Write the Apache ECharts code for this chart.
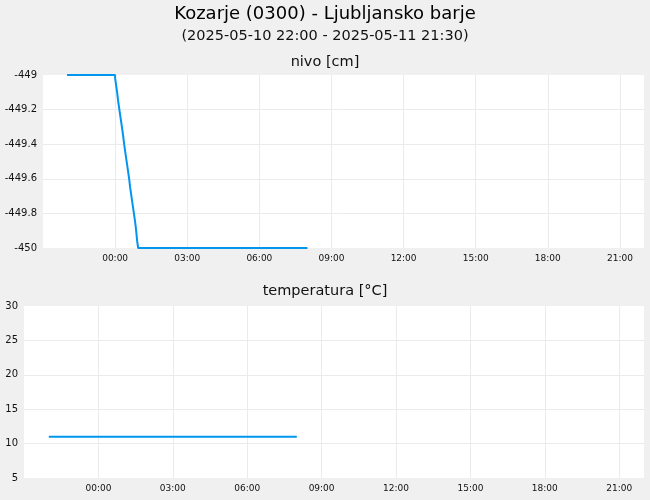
<!DOCTYPE html>
<html>
<head>
<meta charset="utf-8">
<script src="https://cdn.jsdelivr.net/npm/echarts@6/dist/echarts.min.js"></script>
<style>
html,body{margin:0;padding:0;background:#f0f0f0;}
#chart{width:650px;height:500px;}
</style>
</head>
<body>
<div id="chart"></div>
<script>
const mainTitle = 'Kozarje (0300) - Ljubljansko barje';
const subTitle = '(2025-05-10 22:00 - 2025-05-11 21:30)';
const levelTitle = 'nivo [cm]';
const tempTitle = 'temperatura [°C]';

const axisStart = '2025-05-10 21:00:00';
const axisEnd = '2025-05-11 22:00:00';

const levelTimes = [
  '2025-05-10 22:00:00','2025-05-10 22:30:00','2025-05-10 23:00:00','2025-05-10 23:30:00','2025-05-11 00:00:00',
  '2025-05-11 00:02:30','2025-05-11 00:05:00','2025-05-11 00:07:30','2025-05-11 00:10:00','2025-05-11 00:12:30',
  '2025-05-11 00:15:00','2025-05-11 00:17:30','2025-05-11 00:20:00','2025-05-11 00:22:30','2025-05-11 00:25:00',
  '2025-05-11 00:27:30','2025-05-11 00:30:00','2025-05-11 00:32:30','2025-05-11 00:35:00','2025-05-11 00:37:30',
  '2025-05-11 00:40:00','2025-05-11 00:42:30','2025-05-11 00:45:00','2025-05-11 00:47:30','2025-05-11 00:50:00',
  '2025-05-11 00:52:30','2025-05-11 00:55:00','2025-05-11 00:57:30','2025-05-11 01:00:00',
  '2025-05-11 01:30:00','2025-05-11 02:00:00','2025-05-11 02:30:00','2025-05-11 03:00:00','2025-05-11 03:30:00',
  '2025-05-11 04:00:00','2025-05-11 04:30:00','2025-05-11 05:00:00','2025-05-11 05:30:00','2025-05-11 06:00:00',
  '2025-05-11 06:30:00','2025-05-11 07:00:00','2025-05-11 07:30:00','2025-05-11 08:00:00'
];
const levelValues = [
  -449, -449, -449, -449, -449,
  -449.02, -449.06, -449.10, -449.15, -449.19,
  -449.23, -449.27, -449.31, -449.35, -449.40,
  -449.44, -449.48, -449.52, -449.56, -449.60,
  -449.65, -449.69, -449.73, -449.77, -449.81,
  -449.85, -449.90, -449.96, -450.00,
  -450, -450, -450, -450, -450,
  -450, -450, -450, -450, -450,
  -450, -450, -450, -450
];

const tempTimes = [
  '2025-05-10 22:00:00','2025-05-10 22:30:00','2025-05-10 23:00:00','2025-05-10 23:30:00',
  '2025-05-11 00:00:00','2025-05-11 00:30:00','2025-05-11 01:00:00','2025-05-11 01:30:00',
  '2025-05-11 02:00:00','2025-05-11 02:30:00','2025-05-11 03:00:00','2025-05-11 03:30:00',
  '2025-05-11 04:00:00','2025-05-11 04:30:00','2025-05-11 05:00:00','2025-05-11 05:30:00',
  '2025-05-11 06:00:00','2025-05-11 06:30:00','2025-05-11 07:00:00','2025-05-11 07:30:00',
  '2025-05-11 08:00:00'
];
const tempValues = [
  11.0, 11.0, 11.0, 11.0, 11.0, 11.0, 11.0, 11.0, 11.0, 11.0, 11.0,
  11.0, 11.0, 11.0, 11.0, 11.0, 11.0, 11.0, 11.0, 11.0, 11.0
];

function toMs(s) {
  const m = s.match(/(\d+)-(\d+)-(\d+) (\d+):(\d+):(\d+)/);
  return Date.UTC(+m[1], +m[2] - 1, +m[3], +m[4], +m[5], +m[6]);
}
function pad(n) { return (n < 10 ? '0' : '') + n; }
function fmtTime(v) {
  const d = new Date(v);
  return pad(d.getUTCHours()) + ':' + pad(d.getUTCMinutes());
}

const FONT = 'DejaVu Sans';
const LINE_COLOR = '#0096f0';
const GRID_LINE = '#ebebeb';
const HOUR3 = 3 * 3600 * 1000;

function xAxisCfg(idx) {
  return {
    type: 'value', gridIndex: idx,
    min: toMs(axisStart), max: toMs(axisEnd), interval: HOUR3,
    axisLine: { show: false }, axisTick: { show: false },
    axisLabel: { formatter: fmtTime, fontFamily: FONT, fontSize: 9, color: '#111', margin: 6,
      showMinLabel: false, showMaxLabel: false },
    splitLine: { show: true, showMinLine: false, showMaxLine: false, lineStyle: { color: GRID_LINE, width: 1 } }
  };
}
function yAxisCfg(idx, min, max, interval) {
  return {
    type: 'value', gridIndex: idx, min: min, max: max, interval: interval,
    axisLine: { show: false }, axisTick: { show: false },
    axisLabel: { fontFamily: FONT, fontSize: 10, color: '#111', margin: 6 },
    splitLine: { show: true, showMinLine: false, showMaxLine: false, lineStyle: { color: GRID_LINE, width: 1 } }
  };
}

const chart = echarts.init(document.getElementById('chart'), null, { renderer: 'canvas' });
chart.setOption({
  backgroundColor: '#f0f0f0',
  animation: false,
  textStyle: { fontFamily: FONT },
  title: [
    { text: mainTitle, left: 'center', top: 5, padding: 0,
      textStyle: { fontFamily: FONT, fontSize: 18, fontWeight: 'normal', color: '#000' } },
    { text: subTitle, left: 'center', top: 29, padding: 0,
      textStyle: { fontFamily: FONT, fontSize: 14.5, fontWeight: 'normal', color: '#111' } },
    { text: levelTitle, left: 'center', top: 55, padding: 0,
      textStyle: { fontFamily: FONT, fontSize: 14.5, fontWeight: 'normal', color: '#111' } },
    { text: tempTitle, left: 'center', top: 284, padding: 0,
      textStyle: { fontFamily: FONT, fontSize: 14.5, fontWeight: 'normal', color: '#111' } }
  ],
  grid: [
    { left: 43, right: 6, top: 75, height: 173, show: true, backgroundColor: '#fff', borderWidth: 0 },
    { left: 24, right: 6, top: 306, height: 172, show: true, backgroundColor: '#fff', borderWidth: 0 }
  ],
  xAxis: [xAxisCfg(0), xAxisCfg(1)],
  yAxis: [yAxisCfg(0, -450, -449, 0.2), yAxisCfg(1, 5, 30, 5)],
  series: [
    {
      name: levelTitle, type: 'line', xAxisIndex: 0, yAxisIndex: 0,
      step: 'start', showSymbol: false, clip: false,
      lineStyle: { color: LINE_COLOR, width: 2 }, itemStyle: { color: LINE_COLOR },
      data: levelTimes.map((t, i) => [toMs(t), levelValues[i]])
    },
    {
      name: tempTitle, type: 'line', xAxisIndex: 1, yAxisIndex: 1,
      showSymbol: false, clip: false,
      lineStyle: { color: LINE_COLOR, width: 2 }, itemStyle: { color: LINE_COLOR },
      data: tempTimes.map((t, i) => [toMs(t), tempValues[i]])
    }
  ]
});
</script>
</body>
</html>
